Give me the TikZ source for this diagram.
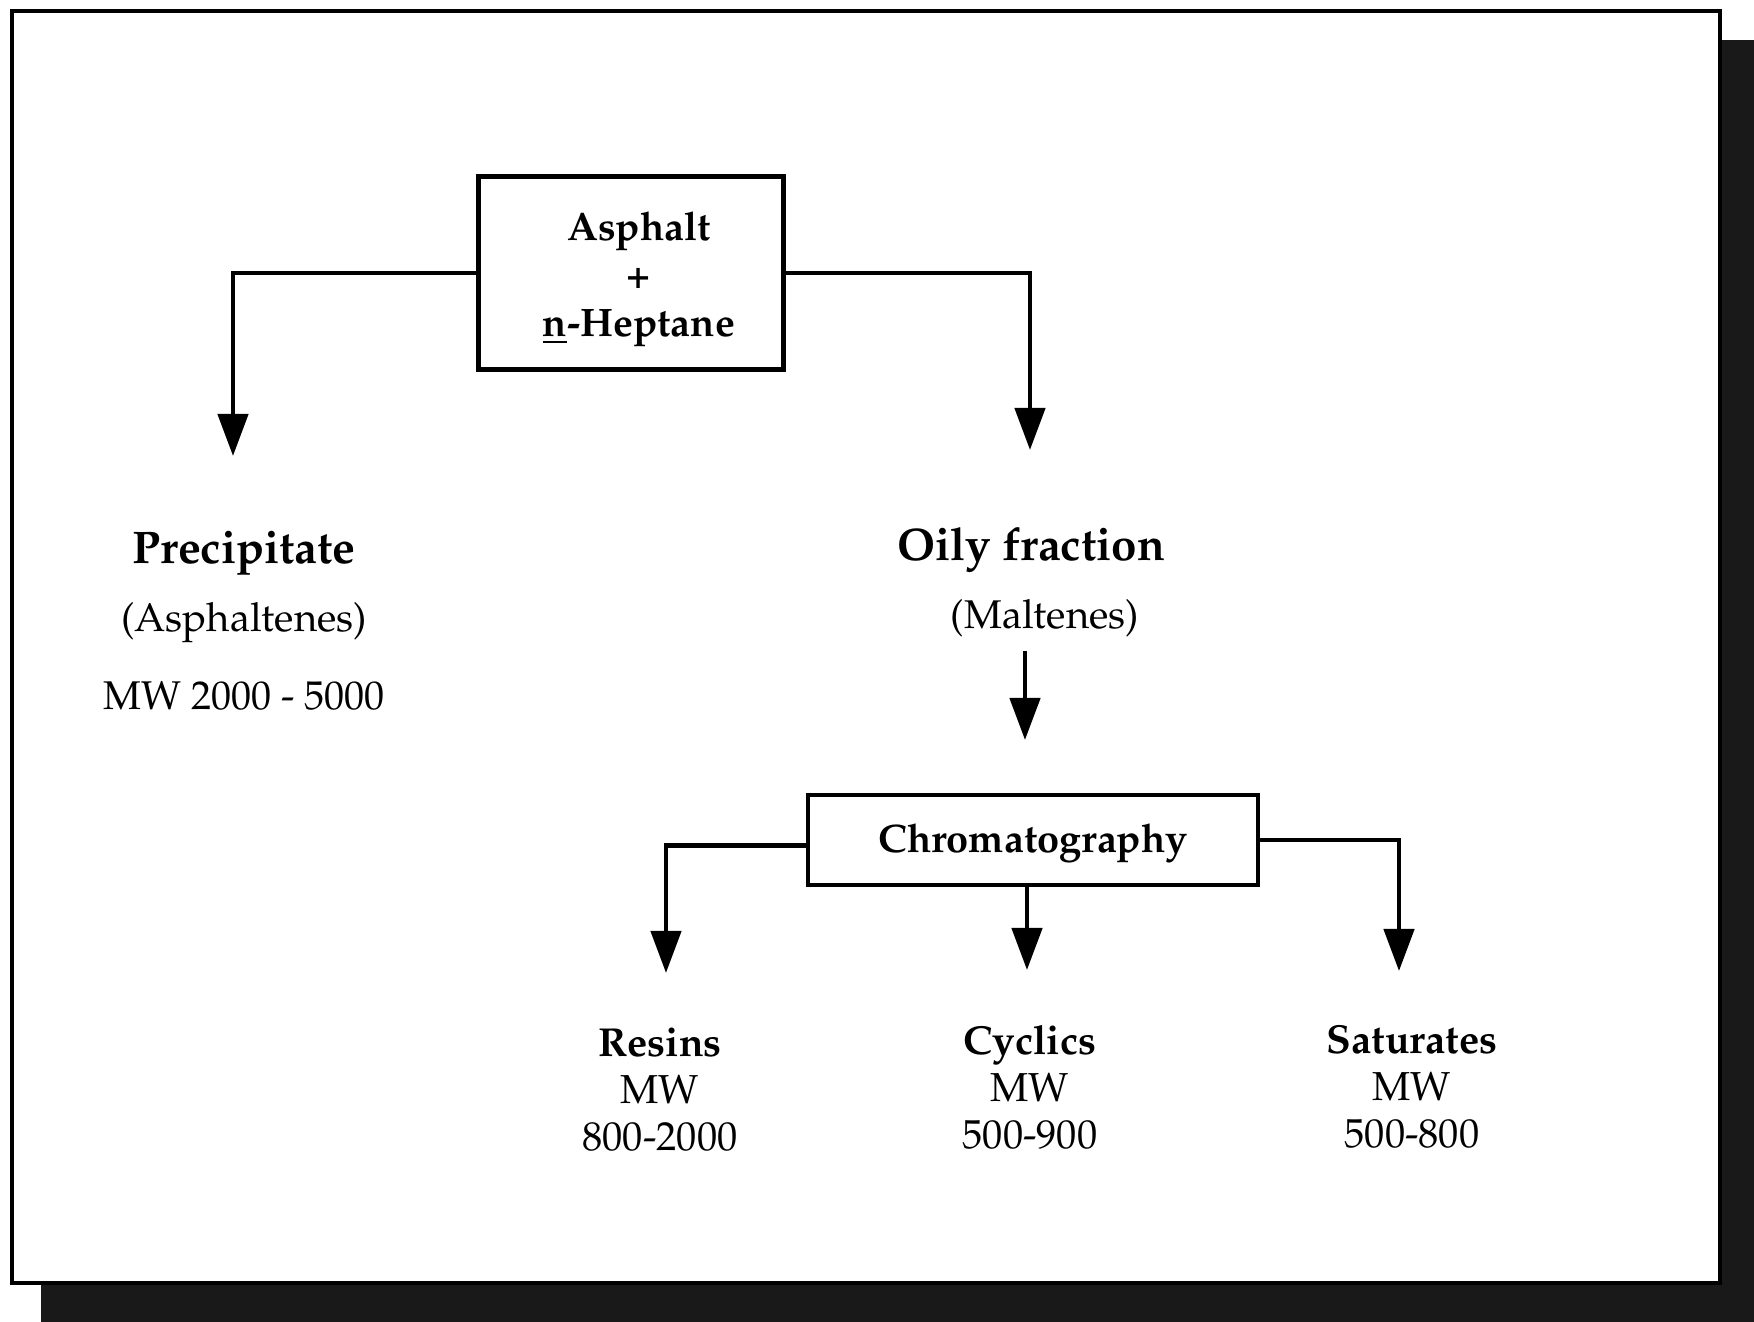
\documentclass[tikz,border=0pt]{standalone}
\usepackage[T1]{fontenc}
\usepackage{mathpazo}
\usetikzlibrary{arrows.meta,positioning}
\tikzset{
    %Define standard arrow tip
    >={Triangle[length=0.42cm,width=0.30cm]},
    %Define style for boxes
    process/.style={
           rectangle,
           draw=black, line width=1.3pt,
           align=center,
           inner sep=0pt,
           font=\fontsize{11.3}{13.6}\selectfont\bfseries},
    head/.style={
           font=\fontsize{13}{15}\selectfont\bfseries},
    sub/.style={
           font=\fontsize{11.4}{14}\selectfont},
    product/.style={
           align=center,
           font=\fontsize{11.5}{13.4}\selectfont},
    % Define arrow style
    pil/.style={
           ->,
           line width=1.3pt},
    shadow/.style={fill=black!90}
}
\begin{document}
\begin{tikzpicture}[x=0.01cm,y=-0.01cm]
\useasboundingbox (0,0) rectangle (1754,1322);
% frame
\fill[shadow] (41,40) rectangle (1754,1322);
\draw[line width=1.4pt, fill=white] (12,11) rectangle (1720,1283);
% boxes
\node[process, minimum width=3.05cm, minimum height=1.93cm](asph) at (631,273){};
\node[process, draw=none](asphtxt) at (639,279)
    {Asphalt\\+\\\underline{n}-Heptane};
\node[process, minimum width=4.50cm, minimum height=0.90cm](chrom) at (1033,840){};
\node[process, draw=none](chromtxt) at (1033,843){Chromatography};
% first split
\node[head](prec) at (244,553){Precipitate};
\node[sub](asphn) at (244,623){(Asphaltenes)};
\node[sub](precmw) at (244,696){MW 2000 - 5000};
\node[head](oily) at (1031,550){Oily fraction};
\node[sub](malt) at (1045,618){(Maltenes)};
% fractions
\node[product](res) at (660,1090){\textbf{Resins}\\MW\\800-2000};
\node[product](cyc) at (1030,1087){\textbf{Cyclics}\\MW\\500-900};
\node[product](sat) at (1412,1087){\textbf{Saturates}\\MW\\500-800};
% arrow ends
\coordinate (ptip) at (233,456);
\coordinate (otip) at (1030,450);
\coordinate (mtop) at (1025,651);
\coordinate (mtip) at (1025,740);
\coordinate (rtip) at (666,973);
\coordinate (ctip) at (1027,970);
\coordinate (stip) at (1399,971);
\draw[pil] (asph.west) -| (ptip);
\draw[pil] (asph.east) -| (otip);
\draw[pil] (mtop) -- (mtip);
\draw[pil] ([yshift=-1.5pt]chrom.west) -| (rtip);
\draw[pil] (chrom.south -| ctip) -- (ctip);
\draw[pil] (chrom.east) -| (stip);
\end{tikzpicture}
\end{document}
